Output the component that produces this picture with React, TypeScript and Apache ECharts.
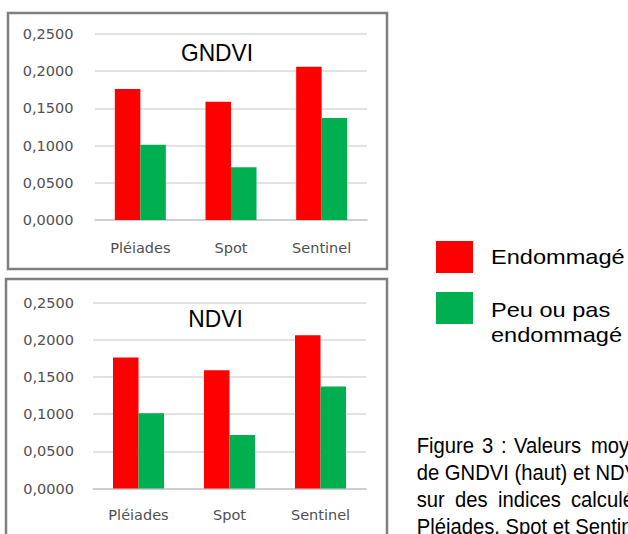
import React, { useEffect, useRef } from "react";
import * as echarts from "echarts";

const categories = ["Pléiades", "Spot", "Sentinel"];
const gndviEndommage = [0.176, 0.159, 0.206];
const gndviPeu = [0.101, 0.071, 0.137];
const ndviEndommage = [0.176, 0.159, 0.206];
const ndviPeu = [0.101, 0.072, 0.137];
const yMin = 0;
const yMax = 0.25;
const yInterval = 0.05;
const panelTitles = ["GNDVI", "NDVI"];
const legendLabels = ["Endommagé", "Peu ou pas", "endommagé"];
const captionLine1 = [
  { w: "Figure", x: 416.7 },
  { w: "3", x: 482 },
  { w: ":", x: 501 },
  { w: "Valeurs", x: 514 },
  { w: "moyennes", x: 591 },
];
const captionLine2 = "de GNDVI (haut) et NDVI (bas)";
const captionLine3 = [
  { w: "sur", x: 416.7 },
  { w: "des", x: 455 },
  { w: "indices", x: 498 },
  { w: "calculés", x: 571 },
];
const captionLine4 = "Pléiades, Spot et Sentinel";

const RED = "#ff0000";
const GREEN = "#00b050";
const LABEL_FONT = "'DejaVu Sans', sans-serif";
const ARIAL = "'Liberation Sans', Arial, sans-serif";

export default function App() {
  const ref = useRef<HTMLDivElement>(null);
  useEffect(() => {
    if (!ref.current) return;
    const chart = echarts.init(ref.current, undefined, { renderer: "svg" });
    const fmt = (v: number) => v.toFixed(4).replace(".", ",");
    const yAxisCommon = (gridIndex: number, margin: number) => ({
      type: "value" as const,
      gridIndex,
      min: yMin,
      max: yMax,
      interval: yInterval,
      axisLine: { show: false },
      axisTick: { show: false },
      axisLabel: {
        formatter: fmt,
        color: "#505050",
        fontFamily: LABEL_FONT,
        fontSize: 14.5,
        margin,
      },
      splitLine: { lineStyle: { color: "#d9d9d9", width: 1.5 } },
    });
    const xAxisCommon = (gridIndex: number, margin: number) => ({
      type: "category" as const,
      gridIndex,
      data: categories,
      axisLine: { lineStyle: { color: "#c8c8c8", width: 1.5 } },
      axisTick: { show: false },
      axisLabel: {
        color: "#505050",
        fontFamily: LABEL_FONT,
        fontSize: 14.5,
        margin,
      },
    });
    const bar = (name: string, data: number[], color: string, idx: number) => ({
      type: "bar" as const,
      name,
      data,
      xAxisIndex: idx,
      yAxisIndex: idx,
      barWidth: 25.5,
      barGap: "0%",
      itemStyle: { color },
    });
    const captionWords = (words: { w: string; x: number }[], y: number) =>
      words.map((it) => ({
        type: "text",
        x: it.x,
        y,
        scaleX: 0.92,
        style: {
          text: it.w,
          fontFamily: ARIAL,
          fontSize: 22,
          fill: "#000",
          textAlign: "left",
          textVerticalAlign: "middle",
        },
      }));
    const captionText = (text: string, y: number) => ({
      type: "text",
      x: 416.7,
      y,
      scaleX: 0.92,
      style: {
        text,
        fontFamily: ARIAL,
        fontSize: 22,
        fill: "#000",
        textAlign: "left",
        textVerticalAlign: "middle",
      },
    });
    const legendText = (text: string, y: number) => ({
      type: "text",
      x: 491,
      y,
      scaleX: 1.15,
      style: {
        text,
        fontFamily: ARIAL,
        fontSize: 20.5,
        fill: "#000",
        textAlign: "left",
        textVerticalAlign: "middle",
      },
    });
    chart.setOption({
      animation: false,
      backgroundColor: "#ffffff",
      grid: [
        { left: 95, right: 261, top: 34, height: 186 },
        { left: 93, right: 262, top: 302.5, height: 186 },
      ],
      xAxis: [xAxisCommon(0, 20), xAxisCommon(1, 19)],
      yAxis: [yAxisCommon(0, 21.5), yAxisCommon(1, 19)],
      series: [
        bar("Endommagé", gndviEndommage, RED, 0),
        bar("Peu ou pas endommagé", gndviPeu, GREEN, 0),
        bar("Endommagé", ndviEndommage, RED, 1),
        bar("Peu ou pas endommagé", ndviPeu, GREEN, 1),
      ],
      graphic: [
        {
          type: "rect",
          z: -10,
          silent: true,
          shape: { x: 8, y: 13, width: 379, height: 256 },
          style: { fill: "none", stroke: "#7f7f7f", lineWidth: 2.5 },
        },
        {
          type: "rect",
          z: -10,
          silent: true,
          shape: { x: 6, y: 279, width: 381, height: 280 },
          style: { fill: "none", stroke: "#7f7f7f", lineWidth: 2.5 },
        },
        {
          type: "text",
          x: 217,
          y: 53.2,
          scaleX: 0.93,
          style: {
            text: panelTitles[0],
            fontFamily: ARIAL,
            fontSize: 24.5,
            fill: "#000",
            textAlign: "center",
            textVerticalAlign: "middle",
          },
        },
        {
          type: "text",
          x: 215.5,
          y: 319,
          scaleX: 0.95,
          style: {
            text: panelTitles[1],
            fontFamily: ARIAL,
            fontSize: 24,
            fill: "#000",
            textAlign: "center",
            textVerticalAlign: "middle",
          },
        },
        {
          type: "rect",
          shape: { x: 436, y: 241, width: 37, height: 32 },
          style: { fill: RED },
        },
        {
          type: "rect",
          shape: { x: 436, y: 292, width: 37, height: 32 },
          style: { fill: GREEN },
        },
        legendText(legendLabels[0], 257.2),
        legendText(legendLabels[1], 309.6),
        legendText(legendLabels[2], 335.2),
        ...captionWords(captionLine1, 445.1),
        captionText(captionLine2, 471.7),
        ...captionWords(captionLine3, 499.1),
        captionText(captionLine4, 525.7),
      ],
    });
    return () => chart.dispose();
  }, []);
  return (
    <div
      ref={ref}
      style={{ position: "absolute", left: 0, top: 0, width: 628, height: 534 }}
    />
  );
}
